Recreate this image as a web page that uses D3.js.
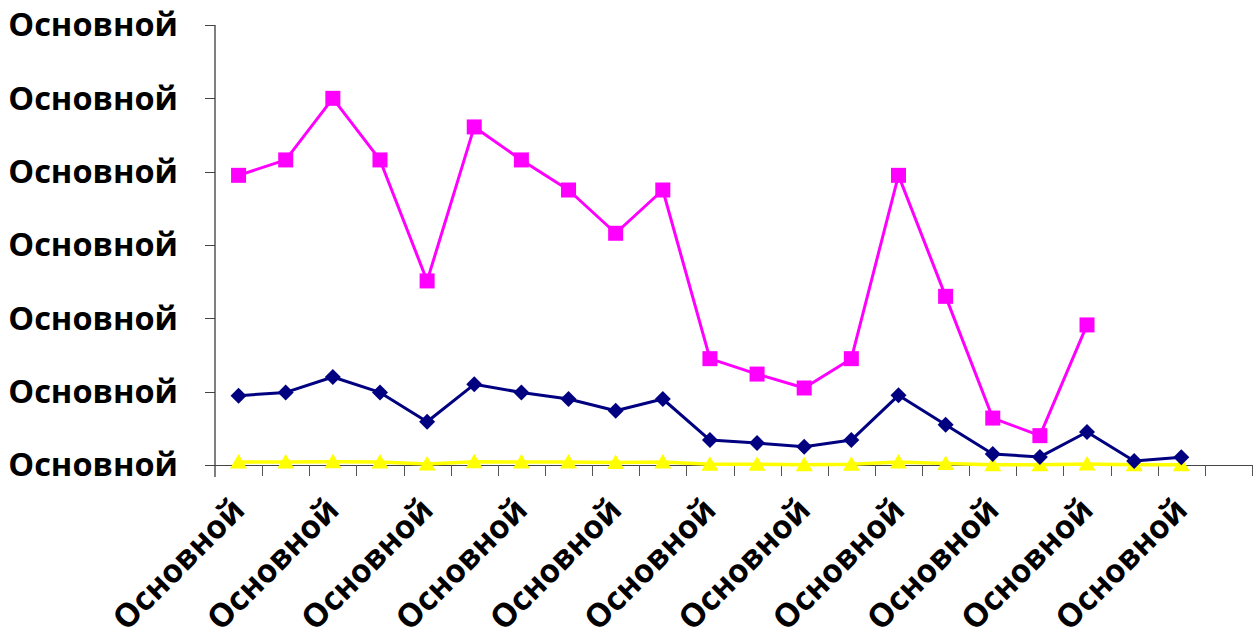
<!DOCTYPE html>
<html><head><meta charset="utf-8">
<script src="https://cdn.jsdelivr.net/npm/d3@7"></script>
<style>body{margin:0;background:#fff}svg{display:block}</style>
</head><body>
<svg id="c" width="1260" height="636"></svg>
<script>
const categories = d3.range(22).map(i => "Основной");
const labelEvery = 2;
const yTickValues = [0, 10, 20, 30, 40, 50, 60];
const yTickLabels = ["Основной","Основной","Основной","Основной","Основной","Основной","Основной"];
const seriesPink = [39.5, 41.6, 50.0, 41.6, 25.1, 46.1, 41.6, 37.5, 31.6, 37.5, 14.5, 12.4, 10.5, 14.5, 39.5, 23.0, 6.4, 4.0, 19.1, null, null, null];
const seriesNavy = [9.45, 9.9, 12.0, 9.9, 5.9, 11.0, 9.9, 9.0, 7.4, 9.0, 3.4, 3.0, 2.5, 3.4, 9.5, 5.5, 1.5, 1.1, 4.5, 0.55, 1.05, null];
const seriesYellow = [0.4, 0.4, 0.45, 0.4, 0.15, 0.45, 0.4, 0.4, 0.35, 0.4, 0.1, 0.1, 0.05, 0.1, 0.4, 0.2, 0.05, 0.05, 0.15, 0.05, 0.05, null];

const svg = d3.select("#c");
const L = 215, R = 1252, T = 25, B = 465;
const x = d3.scaleBand().domain(d3.range(categories.length)).range([L, R]).paddingInner(0).paddingOuter(0);
const cx = i => x(i) + x.bandwidth() / 2;
const y = d3.scaleLinear().domain([0, 60]).range([B, T]);
const font = "'Open Sans', sans-serif";
const fs = 32.5;

// y axis
const yAxis = svg.append("g");
yAxis.append("line").attr("x1", L).attr("x2", L).attr("y1", T).attr("y2", B + 12).attr("stroke", "#000").attr("stroke-width", 1);
yTickValues.forEach((v, i) => {
  yAxis.append("line").attr("x1", L - 10).attr("x2", L).attr("y1", Math.round(y(v)) + 0.5).attr("y2", Math.round(y(v)) + 0.5).attr("stroke", "#444");
  yAxis.append("text").attr("x", 178).attr("y", y(v)).attr("dy", "0.35em").attr("text-anchor", "end")
    .attr("font-family", font).attr("font-weight", "bold").attr("font-size", fs).attr("fill", "#000").text(yTickLabels[i]);
});

// x axis
const xAxis = svg.append("g");
xAxis.append("line").attr("x1", L - 10).attr("x2", R).attr("y1", B + 0.5).attr("y2", B + 0.5).attr("stroke", "#444");
d3.range(categories.length + 1).forEach(i => {
  const xx = Math.round(L + i * x.step()) + 0.5;
  if (i > 0) xAxis.append("line").attr("x1", xx).attr("x2", xx).attr("y1", B).attr("y2", B + 11).attr("stroke", "#555");
});
categories.forEach((c, i) => {
  if (i % labelEvery !== 0) return;
  const px = cx(i) + 8, py = 512;
  xAxis.append("text").attr("transform", `translate(${px},${py}) rotate(-45)`).attr("text-anchor", "end")
    .attr("font-family", font).attr("font-weight", "bold").attr("font-size", fs).attr("fill", "#000").text(c);
});

function drawSeries(data, color, width, shape) {
  const pts = data.map((v, i) => v == null ? null : [cx(i), y(v)]).filter(p => p);
  svg.append("path").attr("d", d3.line()(pts)).attr("fill", "none").attr("stroke", color).attr("stroke-width", width).attr("stroke-linejoin", "round");
  const g = svg.append("g");
  pts.forEach(p => {
    if (shape === "square") g.append("rect").attr("x", p[0] - 7.5).attr("y", p[1] - 7.5).attr("width", 15).attr("height", 15).attr("fill", color);
    else if (shape === "diamond") g.append("path").attr("d", `M${p[0]},${p[1]-8}L${p[0]+8},${p[1]}L${p[0]},${p[1]+8}L${p[0]-8},${p[1]}Z`).attr("fill", color);
    else g.append("path").attr("d", `M${p[0]},${p[1]-8}L${p[0]+8.5},${p[1]+6.5}L${p[0]-8.5},${p[1]+6.5}Z`).attr("fill", color);
  });
}
drawSeries(seriesYellow, "#FFFF00", 3.5, "triangle");
drawSeries(seriesNavy, "#000080", 3, "diamond");
drawSeries(seriesPink, "#FF00FF", 3, "square");
</script>
</body></html>
